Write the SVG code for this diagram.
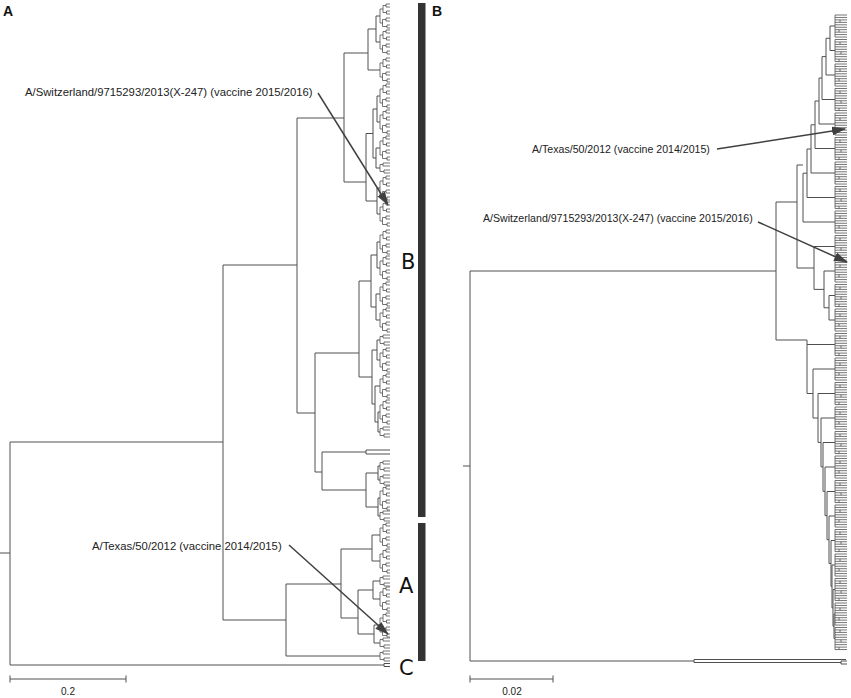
<svg xmlns="http://www.w3.org/2000/svg" xmlns:xlink="http://www.w3.org/1999/xlink" width="851" height="698" viewBox="0 0 851 698">
<style>
.tr{fill:none;stroke:#505050;stroke-width:1}
.lf{fill:none;stroke:#505050;stroke-width:0.8}
.bar{fill:#333333}
.ann{font-family:"Liberation Sans",Arial,sans-serif;fill:#222222}
.cl{font-family:"DejaVu Sans",sans-serif;font-size:21px;fill:#111111}
.pl{font-family:"Liberation Sans",Arial,sans-serif;font-size:14px;font-weight:bold;fill:#111111}
.sc{font-family:"Liberation Sans",Arial,sans-serif;font-size:10px;fill:#222222;text-anchor:middle}
.arr{fill:none;stroke:#404040;stroke-width:1.5;marker-end:url(#ah)}
</style>
<defs>
<marker id="ah" viewBox="0 0 14 9" refX="13" refY="4.5" markerWidth="14" markerHeight="9" markerUnits="userSpaceOnUse" orient="auto">
<path d="M0,0 L14,4.5 L0,9 z" fill="#404040"/>
</marker>
<path id="mcA" class="lf" d="M0,-7 V7 M0,-7 H3 M3,-10.5 V-3.5 M3,-10.5 H6 M6,-12 V-9 M6,-12 H10 M6,-9 H10 M3,-3.5 H6.5 M6.5,-5 V-2 M6.5,-5 H10 M6.5,-2 H10 M0,7 H2.5 M2.5,3.5 V10.5 M2.5,3.5 H6 M6,2 V5 M6,2 H10 M6,5 H10 M2.5,10.5 H7 M7,9 V12 M7,9 H10 M7,12 H10"/>
<path id="mcB" class="lf" d="M0,-3.5 V3.5 M0,-3.5 H3 M3,-5 V-2 M3,-5 H10 M3,-2 H10 M0,3.5 H4 M4,2 V5 M4,2 H10 M4,5 H10"/>
<path id="cm1" class="lf" d="M0,0 V22.05 M0,0 H12 M0,2.45 H12 M0,4.9 H12 M0,7.35 H12 M0,9.8 H12 M0,12.25 H12 M0,14.7 H12 M0,17.15 H12 M0,19.6 H12 M0,22.05 H12 M5,4.9 V7.35 M4,14.7 V17.15"/>
<path id="cm2" class="lf" d="M0,0 V22.05 M0,0 H12 M0,2.45 H12 M0,4.9 H12 M0,7.35 H12 M0,9.8 H12 M0,12.25 H12 M0,14.7 H12 M0,17.15 H12 M0,19.6 H12 M0,22.05 H12 M5,2.45 V4.9 M6,12.25 V14.7 M4,19.6 V22.05"/>
</defs>
<rect x="0" y="0" width="851" height="698" fill="#ffffff"/>

<g id="panel-labels">
<text class="pl" x="3" y="16">A</text>
<text class="pl" x="432" y="16">B</text>
</g>

<g id="tree-a">
<path class="tr" d="M0,553 H10 M10,442 V665 M10,442 H223 M10,665 H384 M384,663.5 V666.5 M384,663.5 H390 M384,666.5 H390
M223,265 V620 M223,265 H297 M223,620 H286
M297,118 V413 M297,118 H344 M297,413 H315
M344,53 V182 M344,53 H368 M344,182 H366
M368,29 V70 M368,29 H376 M368,70 H380
M376,16 V42 M376,16 H380 M376,42 H380
M366,133.5 V201 M366,133.5 H373 M366,201 H377
M373,109 V158 M373,109 H377 M373,158 H376
M377,96 V122 M377,96 H380 M377,122 H380
M376,148 V168 M376,148 H380 M376,168 H380
M377,188 V214 M377,188 H380 M377,214 H380
M315,353 V472 M315,353 H359 M315,472 H322
M359,281 V377 M359,281 H371 M359,377 H372
M371,255 V307 M371,255 H377 M371,307 H376
M377,242 V268 M377,242 H380 M377,268 H380
M376,294 V320 M376,294 H380 M376,320 H380
M372,350 V404 M372,350 H377 M372,404 H375
M377,340 V360 M377,340 H380 M377,360 H380
M375,386 V422 M375,386 H380 M375,422 H378
M378,412 V432 M378,412 H380 M378,432 H380
M322,452 V490 M322,452 H366 M322,490 H366
M366,450 V454 M366,450 H390 M366,454 H390
M366,473 V507 M366,473 H378 M366,507 H378
M378,466 V480 M378,466 H380 M378,480 H380
M378,498 V516 M378,498 H380 M378,516 H380
M286,584 V656 M286,584 H341 M286,656 H380
M341,549 V618 M341,549 H372 M341,618 H358
M372,535 V561 M372,535 H380 M372,561 H380
M358,590 V634 M358,590 H373 M358,634 H374
M373,581 V599 M373,581 H380 M373,599 H380
M374,625 V643 M374,625 H380 M374,643 H380"/>
<use href="#mcA" x="380" y="16"/><use href="#mcA" x="380" y="42"/><use href="#mcA" x="380" y="70"/>
<use href="#mcA" x="380" y="96"/><use href="#mcA" x="380" y="122"/><use href="#mcA" x="380" y="148"/>
<use href="#mcA" x="380" y="188"/><use href="#mcA" x="380" y="214"/><use href="#mcA" x="380" y="242"/>
<use href="#mcA" x="380" y="268"/><use href="#mcA" x="380" y="294"/><use href="#mcA" x="380" y="320"/>
<use href="#mcA" x="380" y="360"/><use href="#mcA" x="380" y="386"/><use href="#mcA" x="380" y="412"/>
<use href="#mcA" x="380" y="498"/><use href="#mcA" x="380" y="535"/><use href="#mcA" x="380" y="561"/>
<use href="#mcA" x="380" y="599"/><use href="#mcA" x="380" y="625"/>
<use href="#mcB" x="380" y="168"/><use href="#mcB" x="380" y="340"/><use href="#mcB" x="380" y="432"/>
<use href="#mcB" x="380" y="466"/><use href="#mcB" x="380" y="480"/><use href="#mcB" x="380" y="516"/>
<use href="#mcB" x="380" y="581"/><use href="#mcB" x="380" y="643"/><use href="#mcB" x="380" y="656"/>
</g>

<g id="clade-bars">
<rect class="bar" x="418" y="3" width="7.5" height="514"/>
<rect class="bar" x="418" y="523" width="7.5" height="138"/>
<text class="cl" x="401" y="269">B</text>
<text class="cl" x="399" y="593">A</text>
<text class="cl" x="399" y="675">C</text>
</g>

<g id="tree-b">
<path class="tr" d="M463,466 H470 M470,271 V661 M470,271 H776 M470,661 H694
M694,659.5 V662.5 M694,659.5 H846 M694,662.5 H841 M841,661 V664 M841,661 H847 M841,664 H847
M776,202 V340 M776,202 H797 M776,340 H807
M797,165 V268 M797,165 H803 M797,268 H814
M803,173.2 V222 M803,173.2 H807 M803,222 H835
M807,149 V197.5 M807,149 H811 M807,197.5 H835
M811,124.8 V173 M811,124.8 H815 M811,173 H835
M815,101 V148.5 M815,101 H819 M815,148.5 H835
M819,78 V124 M819,78 H822 M819,124 H835
M822,56.6 V99.5 M822,56.6 H826 M822,99.5 H835
M826,38.25 V75 M826,38.25 H830 M826,75 H835
M830,26 V50.5 M830,26 H835 M830,50.5 H835
M814,246.5 V289.4 M814,246.5 H835 M814,289.4 H824
M824,271 V307.75 M824,271 H835 M824,307.75 H829
M829,295.5 V320 M829,295.5 H835 M829,320 H835
M807,340 V393.5 M807,344.5 H835 M807,393.5 H813
M813,369 V418 M813,369 H835 M813,418 H818
M818,393.5 V442.4 M818,393.5 H835 M818,442.4 H821
M821,418 V466.9 M821,418 H835 M821,466.9 H823
M823,442.5 V491.3 M823,442.5 H835 M823,491.3 H825
M825,467 V515.6 M825,467 H835 M825,515.6 H827
M827,491.5 V539.7 M827,491.5 H835 M827,539.7 H829
M829,516 V563.5 M829,516 H835 M829,563.5 H831
M831,540.5 V586.4 M831,540.5 H835 M831,586.4 H832
M832,565 V607.9 M832,565 H835 M832,607.9 H833
M833,589.5 V626.25 M833,589.5 H835 M833,626.25 H834
M834,614 V638.5 M834,614 H835 M834,638.5 H835"/>
<use href="#cm1" x="835" y="15"/><use href="#cm2" x="835" y="39.5"/><use href="#cm1" x="835" y="64"/>
<use href="#cm2" x="835" y="88.5"/><use href="#cm1" x="835" y="113"/><use href="#cm2" x="835" y="137.5"/>
<use href="#cm1" x="835" y="162"/><use href="#cm2" x="835" y="186.5"/><use href="#cm1" x="835" y="211"/>
<use href="#cm2" x="835" y="235.5"/><use href="#cm1" x="835" y="260"/><use href="#cm2" x="835" y="284.5"/>
<use href="#cm1" x="835" y="309"/><use href="#cm2" x="835" y="333.5"/><use href="#cm1" x="835" y="358"/>
<use href="#cm2" x="835" y="382.5"/><use href="#cm1" x="835" y="407"/><use href="#cm2" x="835" y="431.5"/>
<use href="#cm1" x="835" y="456"/><use href="#cm2" x="835" y="480.5"/><use href="#cm1" x="835" y="505"/>
<use href="#cm2" x="835" y="529.5"/><use href="#cm1" x="835" y="554"/><use href="#cm2" x="835" y="578.5"/>
<use href="#cm1" x="835" y="603"/><use href="#cm2" x="835" y="627.5"/>
</g>

<g id="annotations">
<text class="ann" x="25" y="96" font-size="11.3">A/Switzerland/9715293/2013(X-247) (vaccine 2015/2016)</text>
<text class="ann" x="92" y="550" font-size="11.3">A/Texas/50/2012 (vaccine 2014/2015)</text>
<text class="ann" x="532" y="153" font-size="10.6">A/Texas/50/2012 (vaccine 2014/2015)</text>
<text class="ann" x="483" y="222" font-size="10.6">A/Switzerland/9715293/2013(X-247) (vaccine 2015/2016)</text>
</g>

<g id="arrows">
<path class="arr" d="M318,93 L388,205"/>
<path class="arr" d="M289,545 L388,634"/>
<path class="arr" d="M717,149 L845,129"/>
<path class="arr" d="M758,222 L847,262"/>
</g>

<g id="scale-bars">
<path class="tr" d="M10,679 H126 M10,675.5 V682.5 M126,675.5 V682.5"/>
<text class="sc" x="68" y="695">0.2</text>
<path class="tr" d="M470,679 H553 M470,675.5 V682.5 M553,675.5 V682.5"/>
<text class="sc" x="512" y="695">0.02</text>
</g>
</svg>
